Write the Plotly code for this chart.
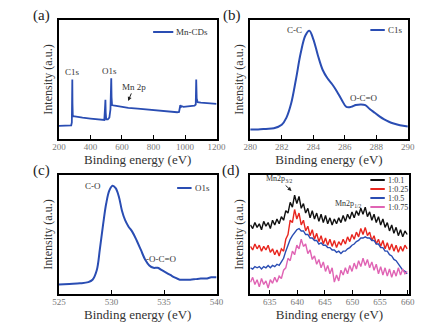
import numpy as np
import plotly.graph_objects as go

W, H = 439, 330
SERIF = "Liberation Serif"

# ---- (a) XPS survey spectrum of Mn-CDs ----
survey_E = [200, 240, 270, 278, 282, 284, 285, 286, 288, 292, 300, 320, 350, 400, 450,
            480, 488, 492, 495, 497, 500, 510, 520, 527, 530, 532, 534, 537, 545, 560,
            600, 640, 700, 750, 800, 850, 900, 950, 962, 966, 970, 975, 980, 990, 1000,
            1030, 1060, 1068, 1071, 1074, 1080, 1100, 1150, 1200]
survey_I = [0.110, 0.110, 0.112, 0.115, 0.140, 0.350, 0.500, 0.300, 0.200, 0.190, 0.190,
            0.185, 0.180, 0.172, 0.163, 0.157, 0.160, 0.250, 0.330, 0.220, 0.165, 0.165,
            0.180, 0.250, 0.450, 0.510, 0.350, 0.285, 0.282, 0.278, 0.270, 0.262, 0.255,
            0.248, 0.242, 0.236, 0.230, 0.225, 0.228, 0.260, 0.285, 0.270, 0.275, 0.270,
            0.272, 0.275, 0.280, 0.290, 0.500, 0.340, 0.310, 0.305, 0.300, 0.295]

# ---- (b) C1s high-resolution spectrum ----
c1s_E = [280, 280.5, 281, 281.5, 282, 282.3, 282.6, 282.9, 283.2, 283.5, 283.75, 284.0,
         284.3, 284.6, 284.9, 285.2, 285.5, 285.8, 286.1, 286.4, 286.7, 287.0, 287.3,
         287.6, 287.9, 288.2, 288.5, 288.8, 289.1, 289.5, 290]
c1s_I = [0.080, 0.080, 0.085, 0.090, 0.120, 0.180, 0.300, 0.500, 0.720, 0.870, 0.910,
         0.840, 0.700, 0.580, 0.510, 0.460, 0.400, 0.330, 0.270, 0.270, 0.285, 0.290,
         0.285, 0.250, 0.220, 0.190, 0.165, 0.145, 0.130, 0.115, 0.105]

# ---- (c) O1s high-resolution spectrum ----
o1s_E = [525, 526, 527, 527.8, 528.2, 528.6, 528.9, 529.2, 529.5, 529.8, 530.1, 530.4,
         530.7, 531.0, 531.3, 531.6, 532.0, 532.4, 532.8, 533.2, 533.6, 534.0, 534.4,
         534.8, 535.2, 535.6, 536.0, 536.5, 537, 537.5, 538, 538.5, 539, 539.5, 540]
o1s_I = [0.080, 0.085, 0.090, 0.100, 0.120, 0.200, 0.380, 0.580, 0.760, 0.870, 0.910,
         0.890, 0.820, 0.700, 0.620, 0.570, 0.520, 0.450, 0.370, 0.290, 0.240, 0.220,
         0.220, 0.200, 0.180, 0.160, 0.140, 0.120, 0.120, 0.120, 0.125, 0.130, 0.130,
         0.140, 0.140]

# ---- (d) Mn 2p spectra for different precursor ratios ----
mn_E = np.round(np.linspace(631.5, 659.9, 72), 2)
mn_ratios = ["1:0.1", "1:0.25", "1:0.5", "1:0.75"]
mn_colors = ["#111111", "#e8261f", "#2a4db3", "#e064b4"]
mn_r010 = [0.58, 0.55, 0.60, 0.56, 0.59, 0.54, 0.61, 0.57, 0.60, 0.55, 0.62, 0.58,
           0.63, 0.59, 0.65, 0.62, 0.70, 0.68, 0.77, 0.73, 0.83, 0.76, 0.82, 0.72,
           0.76, 0.68, 0.72, 0.64, 0.70, 0.63, 0.68, 0.61, 0.67, 0.60, 0.66, 0.59,
           0.64, 0.58, 0.63, 0.59, 0.64, 0.60, 0.66, 0.61, 0.67, 0.63, 0.69, 0.64,
           0.70, 0.66, 0.72, 0.67, 0.73, 0.65, 0.69, 0.62, 0.67, 0.60, 0.65, 0.58,
           0.63, 0.56, 0.60, 0.53, 0.58, 0.51, 0.56, 0.49, 0.54, 0.48, 0.53, 0.50]
mn_r025 = [0.40, 0.37, 0.42, 0.38, 0.41, 0.36, 0.40, 0.37, 0.41, 0.35, 0.38, 0.33,
           0.37, 0.32, 0.38, 0.36, 0.46, 0.50, 0.62, 0.60, 0.71, 0.63, 0.68, 0.58,
           0.62, 0.53, 0.57, 0.49, 0.54, 0.46, 0.51, 0.44, 0.49, 0.42, 0.47, 0.41,
           0.46, 0.40, 0.45, 0.39, 0.44, 0.41, 0.46, 0.42, 0.48, 0.44, 0.50, 0.46,
           0.52, 0.48, 0.55, 0.50, 0.56, 0.49, 0.52, 0.45, 0.49, 0.42, 0.46, 0.40,
           0.45, 0.38, 0.43, 0.37, 0.42, 0.36, 0.41, 0.35, 0.40, 0.36, 0.41, 0.38]
mn_r050 = [0.22, 0.21, 0.23, 0.22, 0.23, 0.21, 0.23, 0.22, 0.24, 0.22, 0.24, 0.23,
           0.25, 0.24, 0.27, 0.30, 0.36, 0.41, 0.46, 0.49, 0.52, 0.54, 0.55, 0.53,
           0.53, 0.50, 0.50, 0.47, 0.47, 0.45, 0.45, 0.42, 0.43, 0.41, 0.41, 0.39,
           0.39, 0.37, 0.37, 0.35, 0.36, 0.34, 0.36, 0.36, 0.38, 0.39, 0.41, 0.42,
           0.44, 0.45, 0.47, 0.47, 0.48, 0.47, 0.47, 0.45, 0.45, 0.42, 0.42, 0.39,
           0.39, 0.36, 0.36, 0.33, 0.32, 0.29, 0.28, 0.25, 0.23, 0.20, 0.19, 0.17]
mn_r075 = [0.10, 0.14, 0.08, 0.12, 0.06, 0.13, 0.08, 0.11, 0.05, 0.12, 0.09, 0.14,
           0.10, 0.15, 0.13, 0.20, 0.22, 0.30, 0.28, 0.36, 0.33, 0.41, 0.38, 0.46,
           0.40, 0.42, 0.34, 0.37, 0.29, 0.32, 0.25, 0.29, 0.22, 0.27, 0.19, 0.24,
           0.17, 0.22, 0.10, 0.16, 0.11, 0.20, 0.16, 0.22, 0.17, 0.24, 0.19, 0.26,
           0.21, 0.28, 0.23, 0.30, 0.24, 0.29, 0.22, 0.27, 0.20, 0.25, 0.17, 0.23,
           0.16, 0.22, 0.15, 0.21, 0.14, 0.20, 0.15, 0.22, 0.16, 0.21, 0.17, 0.19]
mn_series = [mn_r010, mn_r025, mn_r050, mn_r075]

BLUE = "#2a4db3"
TXT = "#333333"

# panel rectangles in pixels: (left, top, right, bottom)
panels = {
    "a": (54, 20, 218, 139),
    "b": (253, 20, 417, 139),
    "c": (54, 175, 218, 294),
    "d": (253, 175, 418, 294),
}


def px(x):
    return x / W


def py(y):
    return 1 - y / H


fig = go.Figure()

fig.add_trace(go.Scatter(x=survey_E, y=survey_I, mode="lines", name="Mn-CDs",
                         line=dict(color=BLUE, width=1.8), xaxis="x", yaxis="y"))
fig.add_trace(go.Scatter(x=c1s_E, y=c1s_I, mode="lines", name="C1s",
                         line=dict(color=BLUE, width=2, shape="spline"),
                         xaxis="x2", yaxis="y2"))
fig.add_trace(go.Scatter(x=o1s_E, y=o1s_I, mode="lines", name="O1s",
                         line=dict(color=BLUE, width=2, shape="spline"),
                         xaxis="x3", yaxis="y3"))
for name, col, vals in zip(mn_ratios, mn_colors, mn_series):
    fig.add_trace(go.Scatter(x=mn_E, y=vals, mode="lines", name=name,
                             line=dict(color=col, width=1.4), xaxis="x4", yaxis="y4"))

tickfont = dict(family=SERIF, size=9, color="#777777")

xranges = {"a": [200, 1200], "b": [280, 290], "c": [525, 540], "d": [631.45, 660.2]}
xdticks = {"a": 200, "b": 2, "c": 5, "d": 5}
xtick0 = {"a": 200, "b": 280, "c": 525, "d": 635}

layout = dict(width=W, height=H, margin=dict(l=0, r=0, t=0, b=0),
              paper_bgcolor="white", plot_bgcolor="white", showlegend=False)

for i, key in enumerate(["a", "b", "c", "d"]):
    l, t, r, b = panels[key]
    sfx = "" if i == 0 else str(i + 1)
    layout["xaxis" + sfx] = dict(
        domain=[px(l), px(r)], anchor="y" + sfx, range=xranges[key],
        tick0=xtick0[key], dtick=xdticks[key], ticks="inside", ticklen=4,
        tickcolor="black", tickfont=tickfont, ticklabelstandoff=-2,
        showline=True, linecolor="black",
        linewidth=1.5, mirror=True, showgrid=False, zeroline=False,
        title=dict(text="Binding energy (eV)", font=dict(family=SERIF, size=13, color=TXT),
                   standoff=0))
    layout["yaxis" + sfx] = dict(
        domain=[py(b), py(t)], anchor="x" + sfx, range=[0, 1],
        showticklabels=False, ticks="", showline=True, linecolor="black",
        linewidth=1.5, mirror=True, showgrid=False, zeroline=False,
        title=dict(text="Intensity (a.u.)", font=dict(family=SERIF, size=12, color=TXT),
                   standoff=2))

fig.update_layout(**layout)

ann_font = dict(family=SERIF, size=9, color=TXT)
small_font = dict(family=SERIF, size=8, color=TXT)
annotations = []

# panel letters
for key, (x, y) in {"a": (36, 16), "b": (234, 16), "c": (36, 170), "d": (233, 170)}.items():
    annotations.append(dict(x=px(x), y=py(y), xref="paper", yref="paper",
                            text=f"({key})", showarrow=False,
                            xanchor="center", yanchor="middle",
                            font=dict(family=SERIF, size=15, color="#222222")))

# peak labels
annotations += [
    dict(x=285.4, y=0.563, xref="x", yref="y", text="C1s", showarrow=False,
         font=ann_font, yanchor="middle"),
    dict(x=523, y=0.571, xref="x", yref="y", text="O1s", showarrow=False,
         font=ann_font, yanchor="middle"),
    dict(x=639, y=0.32, xref="x", yref="y", text="Mn 2p", showarrow=True,
         ax=6, ay=-14, arrowhead=2, arrowsize=0.8, arrowwidth=1,
         arrowcolor="#222222", font=ann_font),
    dict(x=283.4, y=0.92, xref="x2", yref="y2", text="C-C", showarrow=False,
         font=ann_font, xanchor="right", yanchor="middle"),
    dict(x=287.2, y=0.345, xref="x2", yref="y2", text="O-C=O", showarrow=False,
         font=ann_font, yanchor="middle"),
    dict(x=529.2, y=0.908, xref="x3", yref="y3", text="C-O", showarrow=False,
         font=ann_font, xanchor="right", yanchor="middle"),
    dict(x=534.8, y=0.294, xref="x3", yref="y3", text="-O-C=O", showarrow=False,
         font=ann_font, yanchor="middle"),
    dict(x=638.95, y=0.866, xref="x4", yref="y4", text="Mn2p<sub>3/2</sub>",
         showarrow=True, ax=-13, ay=-12, arrowhead=2, arrowsize=0.8, arrowwidth=1,
         arrowcolor="#222222", font=small_font),
    dict(x=649.25, y=0.756, xref="x4", yref="y4", text="Mn2p<sub>1/2</sub>",
         showarrow=False, font=small_font, yanchor="middle"),
]

# legend entries: sample line plus label
shapes = []
legend_items = [
    ("Mn-CDs", BLUE, 152, 173, 32, 9),
    ("C1s", BLUE, 378, 393, 30, 9),
    ("O1s", BLUE, 177, 192, 188, 9),
]
for k, (name, col) in enumerate(zip(mn_ratios, mn_colors)):
    legend_items.append((name, col, 378, 393, 180 + 9 * k, 8))

for name, col, x0, x1, y, fs in legend_items:
    shapes.append(dict(type="line", xref="paper", yref="paper",
                       x0=px(x0), x1=px(x1), y0=py(y), y1=py(y),
                       line=dict(color=col, width=2)))
    annotations.append(dict(x=px(x1 + 1), y=py(y), xref="paper", yref="paper",
                            text=name, showarrow=False, xanchor="left",
                            yanchor="middle",
                            font=dict(family=SERIF, size=fs, color=TXT)))

fig.update_layout(annotations=annotations, shapes=shapes)
fig.write_html("out.html")
